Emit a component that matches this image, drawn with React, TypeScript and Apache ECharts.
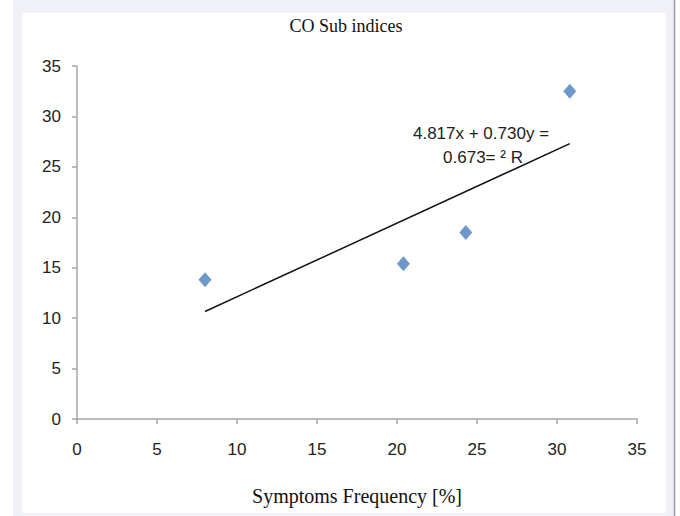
import React, { useEffect, useRef } from "react";
import * as echarts from "echarts";

const titleText = "CO Sub indices";
const xAxisTitle = "Symptoms Frequency [%]";
const symptomsFrequency = [8.0, 20.4, 24.3, 30.8];
const coSubIndex = [13.8, 15.4, 18.5, 32.5];
const trendX = [8.0, 30.8];
const trendY = [10.66, 27.3];
const equationLines = ["4.817x + 0.730y =", "0.673= \u00B2 R"];
const axisMin = 0;
const axisMax = 35;
const axisStep = 5;

export default function App() {
  const ref = useRef<HTMLDivElement>(null);
  useEffect(() => {
    if (!ref.current) return;
    const chart = echarts.init(ref.current, null, { renderer: "svg" });
    const sans = "'Liberation Sans', Arial, sans-serif";
    const serif = "'Liberation Serif', 'Times New Roman', serif";
    chart.setOption({
      animation: false,
      backgroundColor: "#ffffff",
      graphic: [
        { type: "rect", z: -100, silent: true, shape: { x: 13, y: 0, width: 661, height: 516 }, style: { fill: "#f0f1f7" } },
        { type: "rect", z: -99, silent: true, shape: { x: 22, y: 13, width: 644, height: 500 }, style: { fill: "#ffffff" } },
        { type: "line", z: -99, silent: true, shape: { x1: 674.5, y1: 0, x2: 674.5, y2: 516 }, style: { stroke: "#9c9ca4", lineWidth: 1.5 } },
        { type: "text", z: 10, x: 346, y: 26, style: { text: titleText, font: `18px ${serif}`, fill: "#111", align: "center", verticalAlign: "middle" } },
        { type: "text", z: 10, x: 357, y: 496, style: { text: xAxisTitle, font: `20px ${serif}`, fill: "#111", align: "center", verticalAlign: "middle" } },
        { type: "text", z: 10, x: 481, y: 133, style: { text: equationLines[0], font: `17px ${sans}`, fill: "#222", align: "center", verticalAlign: "middle" } },
        { type: "text", z: 10, x: 483, y: 157, style: { text: equationLines[1], font: `17px ${sans}`, fill: "#222", align: "center", verticalAlign: "middle" } },
      ],
      grid: { left: 77, right: 43, top: 66, bottom: 97, containLabel: false },
      xAxis: {
        type: "value",
        min: axisMin,
        max: axisMax,
        interval: axisStep,
        axisLine: { show: true, onZero: false, lineStyle: { color: "#a6a6a6", width: 1.5 } },
        axisTick: { show: true, length: 5, lineStyle: { color: "#a6a6a6", width: 1.5 } },
        axisLabel: { color: "#222", fontSize: 17, fontFamily: sans, margin: 22 },
        splitLine: { show: false },
      },
      yAxis: {
        type: "value",
        min: axisMin,
        max: axisMax,
        interval: axisStep,
        axisLine: { show: true, onZero: false, lineStyle: { color: "#a6a6a6", width: 1.5 } },
        axisTick: { show: true, length: 5, lineStyle: { color: "#a6a6a6", width: 1.5 } },
        axisLabel: { color: "#222", fontSize: 17, fontFamily: sans, margin: 16 },
        splitLine: { show: false },
      },
      series: [
        {
          type: "line",
          data: trendX.map((x, i) => [x, trendY[i]]),
          symbol: "none",
          lineStyle: { color: "#111", width: 1.5 },
          z: 3,
          silent: true,
        },
        {
          type: "scatter",
          data: symptomsFrequency.map((x, i) => [x, coSubIndex[i]]),
          symbol: "diamond",
          symbolSize: [13, 15],
          itemStyle: { color: "#4a7ebb" },
          z: 4,
        },
      ],
    });
    return () => chart.dispose();
  }, []);
  return (
    <div
      ref={ref}
      style={{ position: "fixed", left: 0, top: 0, width: 680, height: 516 }}
    />
  );
}
